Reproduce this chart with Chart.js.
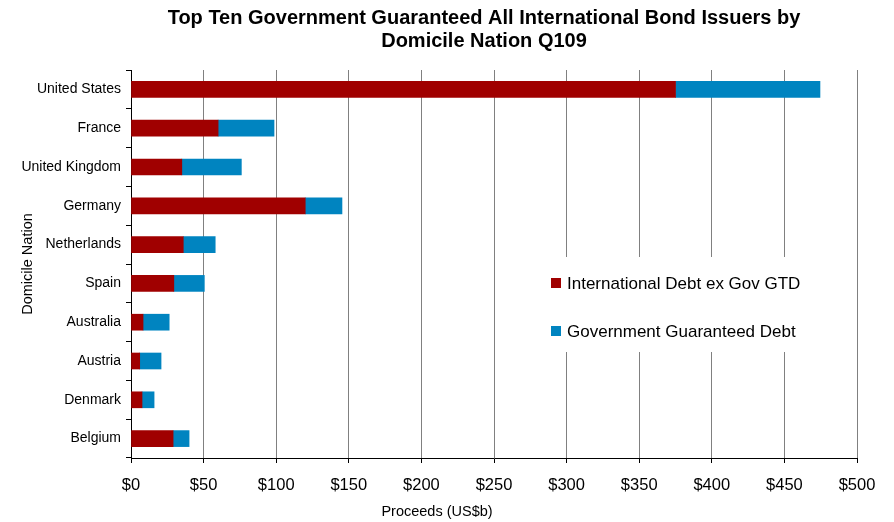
<!DOCTYPE html>
<html>
<head>
<meta charset="utf-8">
<script src="https://cdn.jsdelivr.net/npm/chart.js@4/dist/chart.umd.min.js"></script>
<style>
  html, body { margin: 0; padding: 0; background: #fff; }
  #wrap { width: 894px; height: 522px; position: relative; }
</style>
</head>
<body>
<div id="wrap"><canvas id="chart"></canvas></div>
<script>
const nations = ['United States', 'France', 'United Kingdom', 'Germany', 'Netherlands',
  'Spain', 'Australia', 'Austria', 'Denmark', 'Belgium'];
// US$b, stacked: ordinary international debt first, guaranteed on top
const intlDebt = [375, 60, 35, 120, 36, 29.5, 8.3, 6, 7.6, 29];
const govGuaranteed = [99.5, 38.5, 41, 25.3, 22, 21, 18, 14.7, 8.3, 11];
const titleLines = ['Top Ten Government Guaranteed All International Bond Issuers by',
  'Domicile Nation Q109'];
const xTitle = 'Proceeds (US$b)';
const yTitle = 'Domicile Nation';

const FONT = '"Liberation Sans", Arial, sans-serif';
const RED = '#a00000';
const BLUE = '#0084c0';

// titles and the boxed legend are painted by hand
const decorations = {
  id: 'decorations',
  afterDraw(chart) {
    const { ctx, chartArea: a } = chart;
    ctx.save();
    ctx.fillStyle = '#000';
    ctx.textAlign = 'center';
    ctx.textBaseline = 'middle';

    ctx.font = 'bold 20px ' + FONT;
    titleLines.forEach((t, i) => ctx.fillText(t, 484, 18 + i * 23));

    ctx.font = '14.5px ' + FONT;
    ctx.fillText(xTitle, 437, 512);

    ctx.save();
    ctx.translate(28, (a.top + a.bottom) / 2);
    ctx.rotate(-Math.PI / 2);
    ctx.fillText(yTitle, 0, 0);
    ctx.restore();

    // legend sits over the gridlines on a white box
    ctx.fillStyle = '#fff';
    ctx.fillRect(540, 257, 275, 95);
    ctx.font = '17px ' + FONT;
    ctx.textAlign = 'left';
    chart.data.datasets.forEach((ds, i) => {
      const y = 283 + i * 48;
      ctx.fillStyle = ds.backgroundColor;
      ctx.fillRect(551, y - 5, 10, 10);
      ctx.fillStyle = '#000';
      ctx.fillText(ds.label, 567, y + 1);
    });
    ctx.restore();
  }
};

new Chart(document.getElementById('chart'), {
  type: 'bar',
  data: {
    labels: nations,
    datasets: [
      { label: 'International Debt ex Gov GTD', data: intlDebt, backgroundColor: RED },
      { label: 'Government Guaranteed Debt', data: govGuaranteed, backgroundColor: BLUE }
    ]
  },
  options: {
    indexAxis: 'y',
    responsive: true,
    maintainAspectRatio: false,
    animation: false,
    layout: { padding: { top: 70, right: 37, left: 0, bottom: 0 } },
    datasets: { bar: { barThickness: 16 } },
    plugins: {
      legend: { display: false },
      title: { display: false },
      tooltip: { enabled: false }
    },
    scales: {
      x: {
        stacked: true,
        min: 0,
        max: 500,
        afterFit(s) { s.height = 64; },
        ticks: {
          stepSize: 50,
          color: '#000',
          padding: 13,
          font: { family: FONT, size: 16.5 },
          callback: v => '$' + v
        },
        grid: { color: '#808080', tickColor: '#000', tickLength: 5 },
        border: { color: '#000' }
      },
      y: {
        stacked: true,
        afterFit(s) { s.width = 131; },
        ticks: {
          autoSkip: false,
          color: '#000',
          padding: 5,
          font: { family: FONT, size: 14 }
        },
        grid: { offset: true, drawOnChartArea: false, tickColor: '#000', tickLength: 5 },
        border: { color: '#000' }
      }
    }
  },
  plugins: [decorations]
});
</script>
</body>
</html>
